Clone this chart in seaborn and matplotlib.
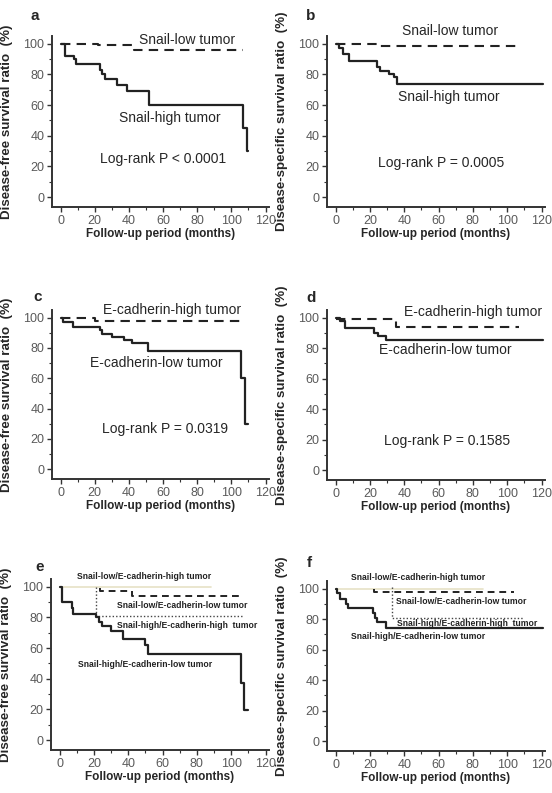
import numpy as np
import pandas as pd
import seaborn as sns
import matplotlib.pyplot as plt
from matplotlib.ticker import MultipleLocator

# a: disease-free survival by Snail
a_low_t = [0, 22, 43, 107]
a_low_s = [100, 99, 96, 96]
a_high_t = [0, 2.5, 8, 9, 23, 24.5, 26, 33, 39, 52, 107, 109, 110]
a_high_s = [100, 92, 90, 87, 83, 80, 77, 73, 69, 60, 45, 30, 30]

# b: disease-specific survival by Snail
b_low_t = [0, 26, 107]
b_low_s = [100, 98.5, 98.5]
b_high_t = [0, 2, 4.5, 8, 24, 26, 31, 34, 36, 121]
b_high_s = [100, 97, 93, 89, 85, 82, 80, 78, 74, 74]

# c: disease-free survival by E-cadherin
c_high_t = [0, 20, 108]
c_high_s = [100, 97.5, 97.5]
c_low_t = [0, 1.2, 7.5, 23, 24.5, 30, 37, 42, 51, 105.5, 108, 110]
c_low_s = [100, 97, 94, 91.5, 89, 87, 85, 83, 78, 60, 30, 30]

# d: disease-specific survival by E-cadherin
d_high_t = [0, 35, 107]
d_high_s = [99, 94, 94]
d_low_t = [0, 2.5, 5.5, 22.5, 24.5, 29.5, 121]
d_low_s = [100, 97.5, 93.5, 90, 88, 85.5, 85.5]

# e: disease-free survival, combined groups
e_lh_t = [0, 88]
e_lh_s = [100, 100]
e_ll_t = [23.6, 23.6, 42, 106]
e_ll_s = [99, 97, 93.7, 93.7]
e_hh_t = [21, 21, 107.5]
e_hh_s = [100, 81, 81]
e_hl_t = [0, 1.2, 7, 7.8, 21, 23, 25, 30, 37, 50, 51.3, 105.5, 107.5, 110]
e_hl_s = [100, 90, 86, 82, 80, 77, 74.5, 71, 66, 62, 56, 37.5, 19.5, 19.5]

# f: disease-specific survival, combined groups
f_lh_t = [0, 86]
f_lh_s = [100, 100]
f_ll_t = [22.6, 22.6, 104]
f_ll_s = [100, 97.5, 97.5]
f_hh_t = [33, 33, 110]
f_hh_s = [101, 80.5, 80.5]
f_hl_t = [0, 1, 2.5, 6, 7, 22, 23, 24, 29.5, 121]
f_hl_s = [100, 97, 93.5, 90, 87, 84, 80.5, 78, 74, 74]

sns.set_style("ticks")
plt.rcParams['font.family'] = ['Liberation Sans', 'DejaVu Sans']

fig = plt.figure(figsize=(5.52, 7.93), dpi=100)

W, H = 552, 793
def add_ax(left, top, right, bottom):
    return fig.add_axes([left / W, 1 - bottom / H, (right - left) / W, (bottom - top) / H])

axes = {
    "a": add_ax(52, 36, 269, 207),
    "b": add_ax(327, 36, 545, 207),
    "c": add_ax(52, 310, 269, 479),
    "d": add_ax(327, 310, 545, 480),
    "e": add_ax(51, 579, 269, 750),
    "f": add_ax(327, 581, 545, 751),
}

solid = dict(color="#222222", lw=1.6, linestyle="-")
dashed = dict(color="#222222", lw=1.5, linestyle=(0, (4.5, 3)))
dashed_s = dict(color="#222222", lw=1.4, linestyle=(0, (3.5, 2.5)))
dotted = dict(color="#444444", lw=1.0, linestyle=(0, (1, 1.5)))
pale = dict(color="#e6e2c6", lw=1.2, linestyle="-")


def km(ax, t, s, style):
    sns.lineplot(x=t, y=s, ax=ax, drawstyle="steps-post", estimator=None,
                 sort=False, **style)


def style_ax(ax, ylabel):
    ax.set_xlim(-5, 122)
    ax.set_ylim(-6.5, 105)
    ax.xaxis.set_major_locator(MultipleLocator(20))
    ax.xaxis.set_minor_locator(MultipleLocator(10))
    ax.yaxis.set_major_locator(MultipleLocator(20))
    ax.yaxis.set_minor_locator(MultipleLocator(10))
    ax.tick_params(which="major", length=3.5, width=1, color="#333333",
                   labelsize=9, labelcolor="#5a5a5a", pad=2)
    ax.tick_params(which="minor", length=2, width=0.8, color="#333333")
    sns.despine(ax=ax)
    for sp in ("left", "bottom"):
        ax.spines[sp].set_linewidth(1.4)
        ax.spines[sp].set_color("#333333")
    ax.set_xlabel("Follow-up period (months)", fontsize=8.5, fontweight="bold",
                  labelpad=1)
    ax.set_ylabel(ylabel, fontsize=9.6, fontweight="bold")
    ax.yaxis.set_label_coords(-0.18, 0.5)


dfs = "Disease-free survival ratio  (%)"
dss = "Disease-specific survival ratio  (%)"
big = dict(fontsize=10, va="center")

ax = axes["a"]
km(ax, a_low_t, a_low_s, dashed)
km(ax, a_high_t, a_high_s, solid)
style_ax(ax, dfs)
ax.text(46, 102.5, "Snail-low tumor", **big)
ax.text(34, 51.5, "Snail-high tumor", **big)
ax.text(23, 24.5, "Log-rank P < 0.0001", **big)

ax = axes["b"]
km(ax, b_low_t, b_low_s, dashed)
km(ax, b_high_t, b_high_s, solid)
style_ax(ax, dss)
ax.text(38.5, 108, "Snail-low tumor", clip_on=False, **big)
ax.text(36.5, 65, "Snail-high tumor", **big)
ax.text(25, 22.5, "Log-rank P = 0.0005", **big)

ax = axes["c"]
km(ax, c_high_t, c_high_s, dashed)
km(ax, c_low_t, c_low_s, solid)
style_ax(ax, dfs)
ax.text(25, 105, "E-cadherin-high tumor", clip_on=False, **big)
ax.text(17, 70, "E-cadherin-low tumor", **big)
ax.text(24, 26.5, "Log-rank P = 0.0319", **big)

ax = axes["d"]
km(ax, d_high_t, d_high_s, dashed)
km(ax, d_low_t, d_low_s, solid)
style_ax(ax, dss)
ax.text(40, 104, "E-cadherin-high tumor", clip_on=False, **big)
ax.text(25.5, 78.5, "E-cadherin-low tumor", **big)
ax.text(28, 19, "Log-rank P = 0.1585", **big)

small = dict(fontsize=6.2, fontweight="bold", va="center", color="#222222")

ax = axes["e"]
km(ax, e_lh_t, e_lh_s, pale)
km(ax, e_ll_t, e_ll_s, dashed_s)
km(ax, e_hh_t, e_hh_s, dotted)
km(ax, e_hl_t, e_hl_s, solid)
style_ax(ax, dfs)
ax.text(10, 106.5, "Snail-low/E-cadherin-high tumor", clip_on=False, **small)
ax.text(33.5, 88, "Snail-low/E-cadherin-low tumor", **small)
ax.text(33.5, 74.5, "Snail-high/E-cadherin-high  tumor", **small)
ax.text(10.5, 49, "Snail-high/E-cadherin-low tumor", **small)

ax = axes["f"]
km(ax, f_lh_t, f_lh_s, pale)
km(ax, f_ll_t, f_ll_s, dashed_s)
km(ax, f_hh_t, f_hh_s, dotted)
km(ax, f_hl_t, f_hl_s, solid)
style_ax(ax, dss)
ax.text(9, 107.5, "Snail-low/E-cadherin-high tumor", clip_on=False, **small)
ax.text(35, 91.3, "Snail-low/E-cadherin-low tumor", **small)
ax.text(35.5, 77, "Snail-high/E-cadherin-high  tumor", **small)
ax.text(9, 68.5, "Snail-high/E-cadherin-low tumor", **small)

letters = {"a": (35, 16), "b": (311, 16), "c": (38, 297),
           "d": (311, 298), "e": (40, 567), "f": (309, 563)}
for k, (px, py) in letters.items():
    fig.text(px / W, 1 - py / H, k, fontsize=11, fontweight="bold",
             ha="center", va="center")

fig.savefig("out.png", dpi=100)
